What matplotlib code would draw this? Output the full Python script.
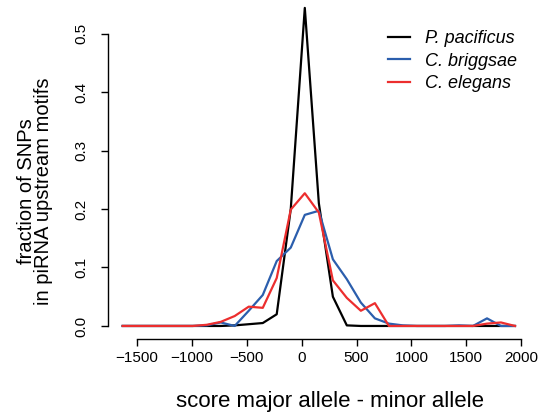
import matplotlib
matplotlib.use("Agg")
import matplotlib.pyplot as plt

plt.rcParams['font.family'] = ['Liberation Sans', 'DejaVu Sans']

# bin centres (score major allele - minor allele)
x = [-1632, -1504, -1377, -1249, -1121, -994, -866, -738, -611, -483,
     -355, -228, -100, 28, 156, 284, 411, 539, 667, 795,
     922, 1050, 1178, 1305, 1433, 1561, 1689, 1816, 1944]

p_pacificus = [0, 0, 0, 0, 0, 0, 0, 0, 0.001, 0.003,
               0.005, 0.020, 0.200, 0.544, 0.210, 0.050, 0.001, 0, 0, 0,
               0, 0, 0, 0, 0, 0, 0, 0, 0]
c_briggsae = [0, 0, 0, 0, 0, 0, 0.001, 0.006, 0.0, 0.026,
              0.053, 0.111, 0.134, 0.190, 0.197, 0.114, 0.080, 0.040, 0.013, 0.004,
              0.001, 0, 0, 0, 0.001, 0, 0.013, 0, 0]
c_elegans = [0, 0, 0, 0, 0, 0, 0.002, 0.007, 0.017, 0.033,
             0.031, 0.082, 0.199, 0.227, 0.194, 0.078, 0.048, 0.026, 0.039, 0,
             0, 0, 0, 0, 0, 0, 0.004, 0.006, 0]

series = ["P. pacificus", "C. briggsae", "C. elegans"]
colors = ["#000000", "#2b5ead", "#ec2e2e"]
xticks = [-1500, -1000, -500, 0, 500, 1000, 1500, 2000]
yticks = [0.0, 0.1, 0.2, 0.3, 0.4, 0.5]

W, H = 542, 416
fig = plt.figure(figsize=(W / 100, H / 100), dpi=100)
l, r, b, t = 108, 531, 339, 0
ax = fig.add_axes([l / W, 1 - b / H, (r - l) / W, (b - t) / H])

for ys, c, name in zip([p_pacificus, c_briggsae, c_elegans], colors, series):
    ax.plot(x, ys, color=c, lw=1.6, label=name)

ax.set_xlim(-1766, 2090)
ax.set_ylim(-0.0223, 0.5575)
for s in ["top", "right"]:
    ax.spines[s].set_visible(False)
ax.spines["left"].set_bounds(0, 0.5)
ax.spines["bottom"].set_bounds(-1500, 2000)
ax.spines["left"].set_linewidth(1.0)
ax.spines["bottom"].set_linewidth(1.0)
ax.set_xticks(xticks)
ax.set_xticklabels(["\u2212" + str(-v) if v < 0 else str(v) for v in xticks])
ax.set_yticks(yticks)
ax.set_yticklabels([f"{v:.1f}" for v in yticks], rotation=90, va="center")
ax.tick_params(axis="both", length=5, width=1.0, labelsize=11)
ax.tick_params(axis="x", pad=4)
ax.tick_params(axis="y", pad=9)

fig.text(330 / W, 1 - 402 / H, "score major allele - minor allele",
         ha="center", va="center", fontsize=16)
fig.text(35 / W, 1 - 191 / H, "fraction of SNPs\nin piRNA upstream motifs",
         rotation=90, ha="center", va="center", multialignment="center",
         fontsize=14.5, linespacing=0.9)

leg = ax.legend(loc="upper right", bbox_to_anchor=(524 / W, 1 - 23 / H),
                bbox_transform=fig.transFigure, frameon=False,
                prop={"style": "italic", "size": 13},
                handlelength=1.25, handletextpad=0.8, labelspacing=0.3,
                borderaxespad=0)

fig.savefig("out.png", dpi=100)
